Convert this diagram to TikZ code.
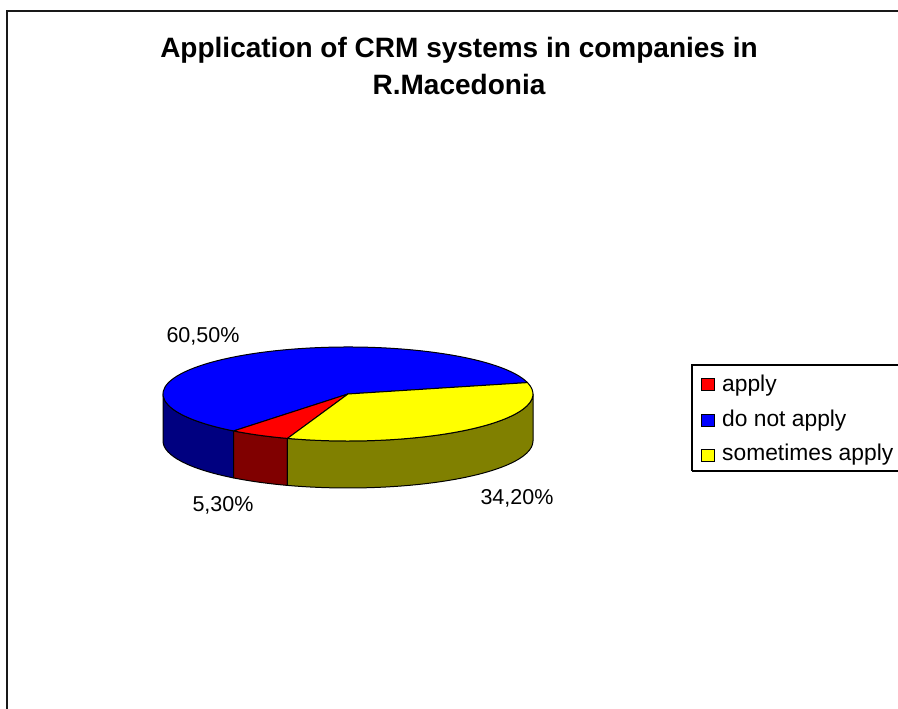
\documentclass[tikz,border=0pt]{standalone}
\usepackage{fontspec}
\setmainfont{Liberation Sans}
\definecolor{topblue}{RGB}{0,0,255}
\definecolor{topred}{RGB}{255,0,0}
\definecolor{topyellow}{RGB}{255,255,0}
\definecolor{sideblue}{RGB}{0,0,128}
\definecolor{sidered}{RGB}{128,0,0}
\definecolor{sideyellow}{RGB}{128,128,0}
\newcommand\myrx{185}
\newcommand\myry{47}
\newcommand\mydep{47}
\newcommand\mypieside[3]{%
  \filldraw[slice, fill=#3] ({\myrx*cos(#1)},{\myry*sin(#1)})
    arc[start angle=#1, end angle=#2, x radius=\myrx, y radius=\myry]
    -- ++(0,-\mydep)
    arc[start angle=#2, end angle=#1, x radius=\myrx, y radius=\myry] -- cycle;}
\newcommand\mypietop[3]{%
  \filldraw[slice, fill=#3] (0,0) -- ({\myrx*cos(#1)},{\myry*sin(#1)})
    arc[start angle=#1, end angle=#2, x radius=\myrx, y radius=\myry] -- cycle;}
\begin{document}
\begin{tikzpicture}[x=1pt, y=1pt,
  slice/.style={draw=black, line width=1pt, line join=round},
  titlefont/.style={font=\fontsize{28}{34}\selectfont\bfseries, inner sep=0pt, anchor=base},
  pctlabel/.style={font=\fontsize{21.5}{25}\selectfont, inner sep=0pt, anchor=base},
  legtext/.style={font=\fontsize{22.8}{26}\selectfont, inner sep=0pt, anchor=base west},
  legkey/.style={draw=black, line width=1pt, minimum width=13pt, minimum height=12pt, inner sep=0pt}]
\useasboundingbox (0,0) rectangle (898,709);
\fill[white] (0,0) rectangle (898,709);
% chart frame
\draw[line width=2pt, black!90] (7,0) -- (7,698) -- (898,698);
% title
\node[titlefont] (title1) at (459,651) {Application of CRM systems in companies in};
\node[titlefont] (title2) at (459,614) {R.Macedonia};
% pie
\begin{scope}[shift={(348,315)}]
  \mypieside{180}{231.82}{sideblue}
  \mypieside{231.82}{250.9}{sidered}
  \mypieside{250.9}{360}{sideyellow}
  \mypietop{14.02}{231.82}{topblue}
  \mypietop{231.82}{250.9}{topred}
  \mypietop{250.9}{374.02}{topyellow}
\end{scope}
% percentage labels
\node[pctlabel] (lab60) at (203,366) {60,50\%};
\node[pctlabel] (lab5) at (223,197) {5,30\%};
\node[pctlabel] (lab34) at (517,204) {34,20\%};
% legend
\draw[line width=1.2pt, black] (692,238) -- (692,344) -- (905,344);
\draw[line width=1.2pt, black] (692,238) -- (905,238);
\node[legkey, fill=topred] (key1) at (707.5,324) {};
\node[legkey, fill=topblue] (key2) at (707.5,288) {};
\node[legkey, fill=topyellow] (key3) at (707.5,253) {};
\node[legtext] (leg1) at (722,317) {apply};
\node[legtext] (leg2) at (722,282) {do not apply};
\node[legtext] (leg3) at (722,248) {sometimes apply};
\end{tikzpicture}
\end{document}
